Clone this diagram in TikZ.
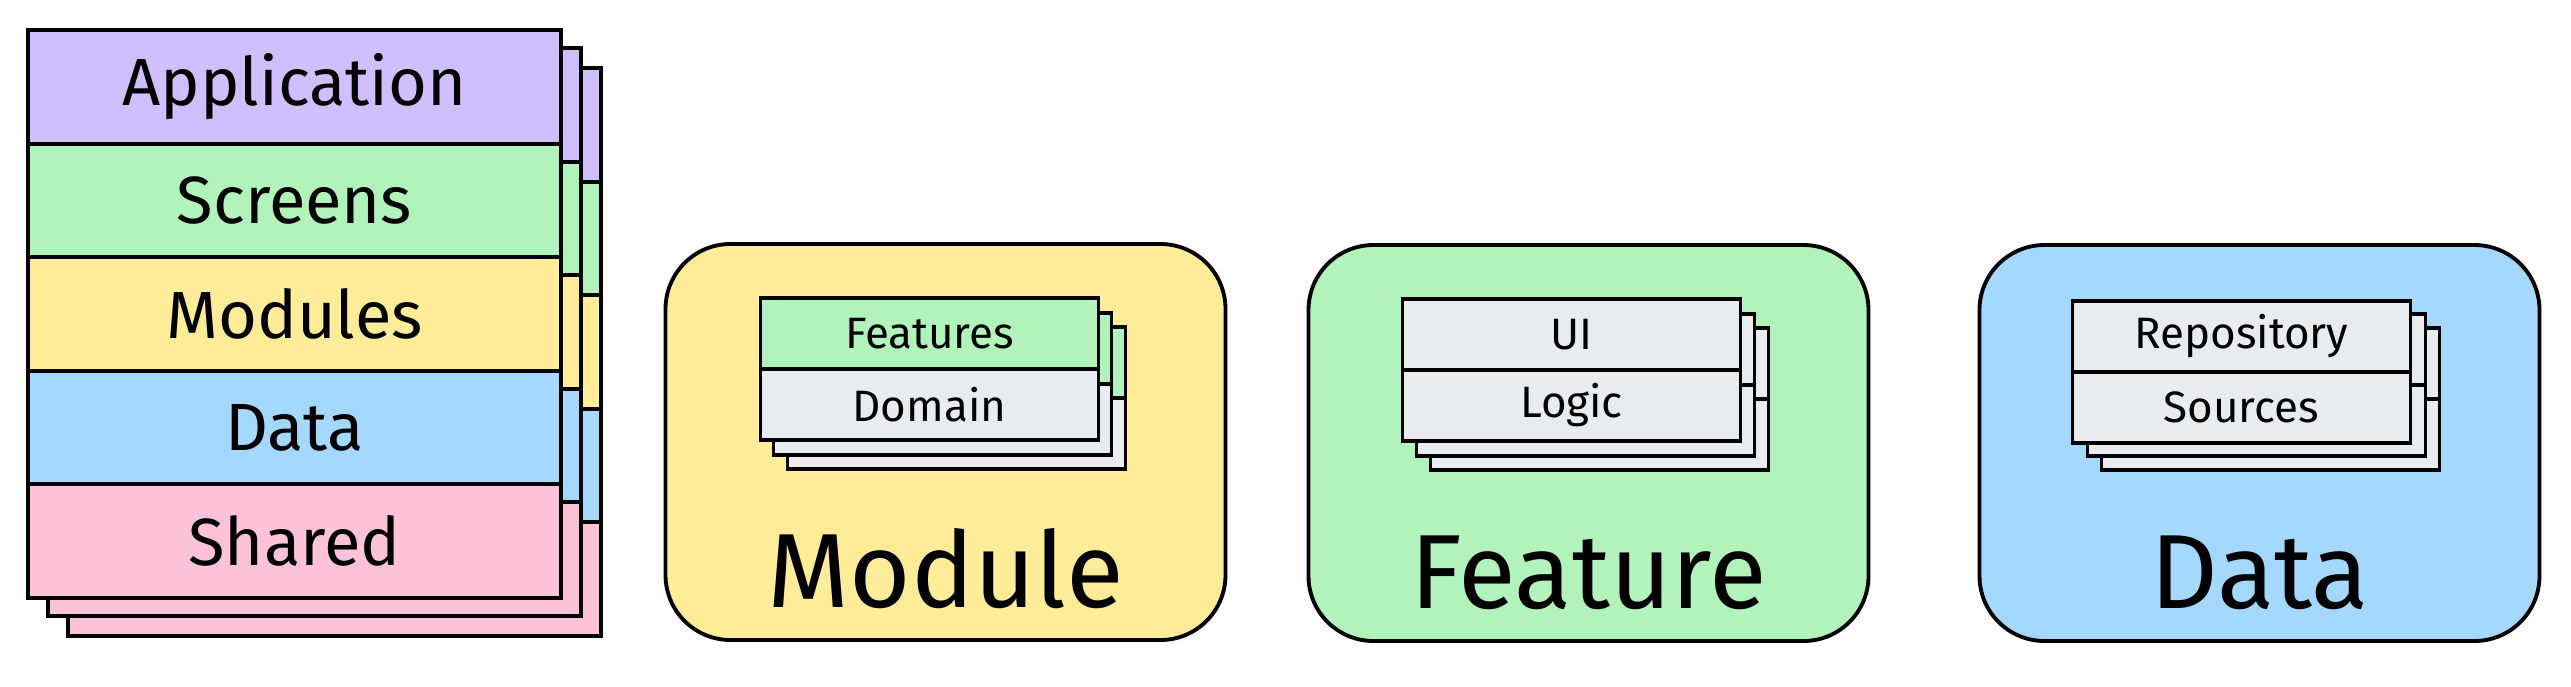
\documentclass[tikz,border=0pt]{standalone}
\usepackage{fontspec}
\setmainfont{Fira Sans}
\usetikzlibrary{positioning,backgrounds}
\definecolor{appcol}{HTML}{D0BFFF}
\definecolor{scrcol}{HTML}{B2F2BB}
\definecolor{modcol}{HTML}{FFEC99}
\definecolor{datcol}{HTML}{A5D8FF}
\definecolor{shrcol}{HTML}{FCC2D7}
\definecolor{grycol}{HTML}{E9ECEF}
\tikzset{
    layer/.style = {draw, line width=1.1pt, rectangle, outer sep=0pt, inner sep=0pt, minimum width=5.33cm, minimum height=1.136cm, font=\fontsize{19}{22}\selectfont},
    panel/.style = {draw, line width=1.1pt, rounded corners=0.65cm, outer sep=0pt, minimum width=5.6cm, minimum height=3.96cm},
    part/.style = {draw, line width=1.1pt, rectangle, outer sep=0pt, inner sep=0pt, minimum width=3.38cm, minimum height=0.71cm, font=\fontsize{12.5}{14}\selectfont},
    title/.style = {anchor=base, font=\fontsize{30}{34}\selectfont},
}

\begin{document}
\begin{tikzpicture}
    \useasboundingbox (0,0) rectangle (25.71,-6.86);

    % layer stack
    \node [layer, fill=appcol] at (2.945,-0.868) (app) {Application};
    \node [layer, fill=scrcol, below=0pt of app] (scr) {Screens};
    \node [layer, fill=modcol, below=0pt of scr] (mods) {Modules};
    \node [layer, fill=datcol, below=0pt of mods] (dat) {Data};
    \node [layer, fill=shrcol, below=0pt of dat] (shr) {Shared};

    % sheets behind
    \begin{scope}[on background layer]
        \foreach \lay/\col in {app/appcol, scr/scrcol, mods/modcol, dat/datcol, shr/shrcol}
            \node [layer, fill=\col] at ([shift={(0.40,-0.38)}]\lay) (\lay-2) {};
        \foreach \lay/\col in {app/appcol, scr/scrcol, mods/modcol, dat/datcol, shr/shrcol}
            \node [layer, fill=\col] at ([shift={(0.20,-0.18)}]\lay) (\lay-1) {};
    \end{scope}

    % the three panels
    \node [panel, fill=modcol] at (9.455,-4.42) (module) {};
    \node [panel, fill=scrcol] at (15.885,-4.43) (feature) {};
    \node [panel, fill=datcol] at (22.595,-4.43) (data) {};

    \foreach \pan/\top/\bot in {module/scrcol/grycol, feature/grycol/grycol, data/grycol/grycol}
        \foreach \d [count=\k] in {0.28,0.14} {
            \node [part, fill=\top, anchor=north west] at ([shift={(0.94+\d,-0.55-\d)}]\pan.north west) (\pan-top-\k) {};
            \node [part, fill=\bot, below=0pt of \pan-top-\k] (\pan-bot-\k) {};
        }

    \node [part, fill=scrcol, anchor=north west] at ([shift={(0.95,-0.54)}]module.north west) (features) {Features};
    \node [part, fill=grycol, below=0pt of features] (domain) {Domain};
    \node [part, fill=grycol, anchor=north west] at ([shift={(0.94,-0.54)}]feature.north west) (ui) {UI};
    \node [part, fill=grycol, below=0pt of ui] (logic) {Logic};
    \node [part, fill=grycol, anchor=north west] at ([shift={(0.93,-0.56)}]data.north west) (repo) {Repository};
    \node [part, fill=grycol, below=0pt of repo] (sources) {Sources};

    \node [title] at ([yshift=0.33cm]module.south) (module-t) {Module};
    \node [title] at ([yshift=0.33cm]feature.south) (feature-t) {Feature};
    \node [title] at ([yshift=0.33cm]data.south) (data-t) {Data};
\end{tikzpicture}
\end{document}
